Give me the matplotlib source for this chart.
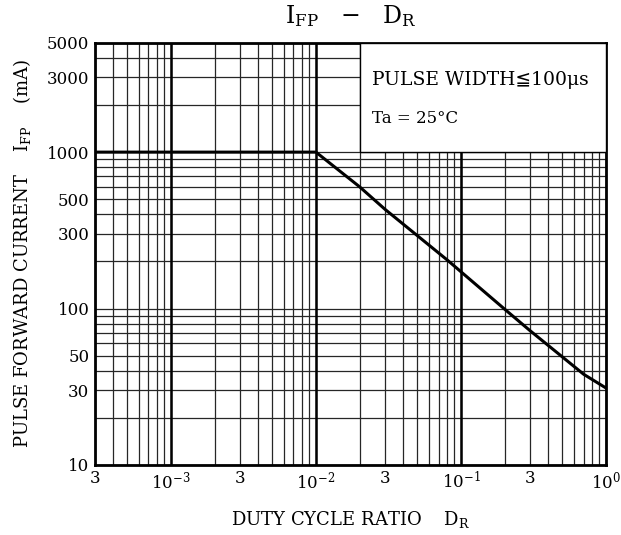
import matplotlib
matplotlib.use('Agg')
import matplotlib.pyplot as plt
from matplotlib.ticker import LogLocator, NullFormatter

plt.rcParams['font.family'] = ['DejaVu Serif', 'DejaVu Sans']
plt.rcParams['mathtext.fontset'] = 'dejavuserif'

# Datos
duty = [3e-4, 0.01, 0.02, 0.03, 0.08, 0.2, 0.3, 0.5, 0.7, 1.0]
ifp = [1000, 1000, 600, 430, 205, 99, 72, 49, 38, 31]

x_ticks = [3e-4, 1e-3, 3e-3, 1e-2, 3e-2, 1e-1, 3e-1, 1.0]
x_labels = ['3', '$10^{-3}$', '3', '$10^{-2}$', '3', '$10^{-1}$', '3', '$10^{0}$']
y_ticks = [10, 30, 50, 100, 300, 500, 1000, 3000, 5000]
y_labels = ['10', '30', '50', '100', '300', '500', '1000', '3000', '5000']
x_decades = [1e-3, 1e-2]
box_x = [0.02, 1.0]
box_y = [1000, 5000]

fig = plt.figure(figsize=(6.21, 5.35), dpi=100)
ax = fig.add_axes([0.153, 0.131, 0.823, 0.789])

ax.set_xscale('log')
ax.set_yscale('log')
ax.set_xlim(3e-4, 1.0)
ax.set_ylim(10, 5000)

# Rejilla completa tipo papel logaritmico (solo con ticks menores)
ax.xaxis.set_minor_locator(LogLocator(base=10, subs=range(1, 10)))
ax.yaxis.set_minor_locator(LogLocator(base=10, subs=range(1, 10)))
ax.xaxis.remove_overlapping_locs = False
ax.yaxis.remove_overlapping_locs = False
ax.xaxis.set_minor_formatter(NullFormatter())
ax.yaxis.set_minor_formatter(NullFormatter())
ax.grid(False, which='major')
ax.grid(True, which='minor', color='0.15', linewidth=0.9)
ax.set_axisbelow(True)

# Decadas en trazo grueso
for d in x_decades:
    ax.vlines(d, 10, 5000, color='black', linewidth=1.8, zorder=1)
ax.vlines(1e-1, 10, box_y[0], color='black', linewidth=1.8, zorder=1)

ax.set_xticks(x_ticks)
ax.set_xticklabels(x_labels, fontsize=12)
ax.set_yticks(y_ticks)
ax.set_yticklabels(y_labels, fontsize=12)
ax.tick_params(which='both', length=0, pad=4)

for s in ax.spines.values():
    s.set_linewidth(2)

# Recuadro con condiciones
ax.fill_between(box_x, box_y[0], box_y[1], facecolor='white', edgecolor='black',
                linewidth=1.0, zorder=5)
ax.text(0.0245, 2900, 'PULSE WIDTH\u2266100\u03bcs', fontsize=13.5, va='center', zorder=6)
ax.text(0.0245, 1640, 'Ta = 25\u00b0C', fontsize=12, va='center', zorder=6)

ax.plot(duty, ifp, color='black', linewidth=2.2, zorder=6)

ax.set_title(r'$\mathrm{I_{FP}}$   $-$   $\mathrm{D_R}$', fontsize=17, pad=14)
ax.set_xlabel(r'DUTY CYCLE RATIO    $\mathrm{D_R}$', fontsize=13, labelpad=12)
ax.set_ylabel(r'PULSE FORWARD CURRENT    $\mathrm{I_{FP}}$    (mA)', fontsize=13, labelpad=10)

plt.savefig('out.png', dpi=100)
